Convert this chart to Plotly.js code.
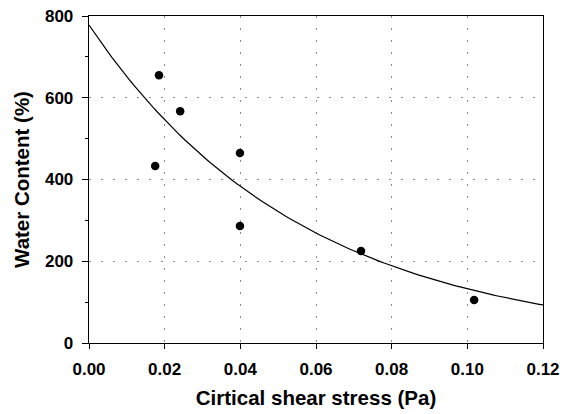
<!DOCTYPE html>
<html>
<head>
<meta charset="utf-8">
<script src="https://cdn.plot.ly/plotly-3.0.1.min.js"></script>
<style>html,body{margin:0;padding:0;background:#fff;}#chart{width:567px;height:414px;}</style>
</head>
<body>
<div id="chart"></div>
<script>
// Observed data points
var shearStress = [0.0185, 0.0241, 0.0175, 0.0399, 0.0399, 0.0719, 0.1018];
var waterContent = [655, 567, 433, 465, 286, 225, 105];

// Fitted exponential regression curve: y = fitA * exp(-fitB * x)
var fitA = 778;
var fitB = 17.7;
var fitX = [];
var fitY = [];
for (var i = 0; i <= 120; i++) {
  var xv = i * 0.001;
  fitX.push(xv);
  fitY.push(fitA * Math.exp(-fitB * xv));
}

var xTicks = [0, 0.02, 0.04, 0.06, 0.08, 0.10, 0.12];
var xTickLabels = ['0.00', '0.02', '0.04', '0.06', '0.08', '0.10', '0.12'];
var yTicks = [0, 200, 400, 600, 800];

var fam = 'Liberation Sans, Arial, sans-serif';

var traces = [
  {x: fitX, y: fitY, mode: 'lines', line: {color: '#000', width: 1.2}, hoverinfo: 'skip'},
  {x: shearStress, y: waterContent, mode: 'markers', marker: {color: '#000', size: 8.5}}
];

var layout = {
  width: 567, height: 414,
  margin: {l: 89, r: 24, t: 16, b: 71},
  showlegend: false,
  paper_bgcolor: '#fff', plot_bgcolor: '#fff',
  font: {family: fam, size: 14, color: '#000'},
  xaxis: {
    range: [0, 0.12], tickvals: xTicks, ticktext: xTickLabels,
    ticks: 'outside', ticklen: 5, tickwidth: 1, tickcolor: '#000',
    ticklabelstandoff: 5,
    showline: true, linecolor: '#000', linewidth: 1.3, mirror: true,
    showgrid: true, gridcolor: '#8c8c8c', griddash: '2px,10px', gridwidth: 1,
    zeroline: false,
    tickfont: {family: fam, size: 17, color: '#000', weight: 'bold'},
    title: {text: 'Cirtical shear stress (Pa)', font: {family: fam, size: 20.5, color: '#000', weight: 'bold'}, standoff: 13}
  },
  yaxis: {
    range: [0, 800], tickvals: yTicks,
    ticks: 'outside', ticklen: 6, tickwidth: 1, tickcolor: '#000',
    ticklabelstandoff: 5,
    minor: {dtick: 100, ticks: 'outside', ticklen: 3, tickcolor: '#000', showgrid: false},
    showline: true, linecolor: '#000', linewidth: 1.3, mirror: true,
    showgrid: true, gridcolor: '#8c8c8c', griddash: '2px,10px', gridwidth: 1,
    zeroline: false,
    tickfont: {family: fam, size: 17, color: '#000', weight: 'bold'},
    title: {text: 'Water Content (%)', font: {family: fam, size: 20.5, color: '#000', weight: 'bold'}, standoff: 9}
  }
};

Plotly.newPlot('chart', traces, layout, {displayModeBar: false, staticPlot: true});
</script>
</body>
</html>
